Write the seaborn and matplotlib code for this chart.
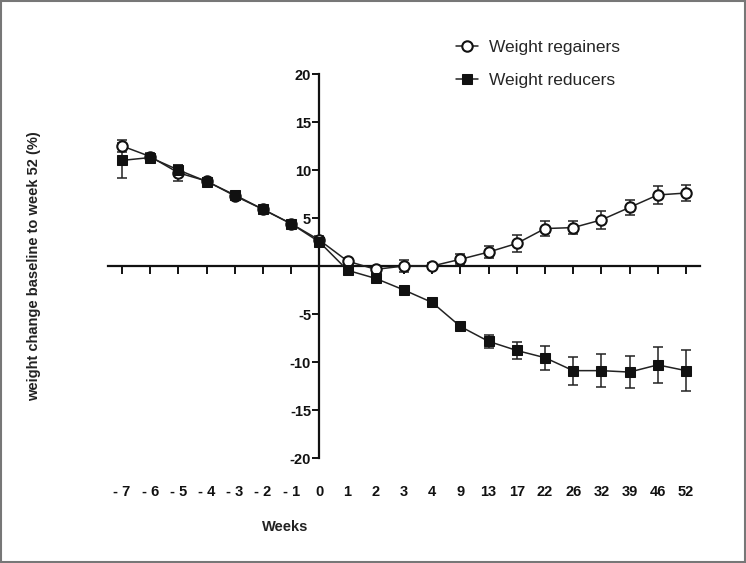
import matplotlib
matplotlib.use("Agg")
import matplotlib.pyplot as plt
import seaborn as sns
import pandas as pd
import numpy as np

# values
weeks = ['- 7', '- 6', '- 5', '- 4', '- 3', '- 2', '- 1', '0', '1', '2', '3', '4',
         '9', '13', '17', '22', '26', '32', '39', '46', '52']
regainers = [12.5, 11.4, 9.7, 8.85, 7.3, 5.9, 4.4, 2.7, 0.5, -0.35, 0.0, 0.0,
             0.7, 1.45, 2.35, 3.9, 4.0, 4.8, 6.1, 7.4, 7.6]
regainers_err = [0.6, 0.4, 0.8, 0.3, 0.3, 0.3, 0.3, 0.4, 0.3, 0.4, 0.6, 0.3,
                 0.5, 0.6, 0.9, 0.8, 0.7, 0.9, 0.8, 0.9, 0.8]
reducers = [11.0, 11.3, 10.0, 8.8, 7.4, 5.9, 4.4, 2.5, -0.45, -1.3, -2.5, -3.8,
            -6.3, -7.85, -8.8, -9.55, -10.9, -10.9, -11.05, -10.3, -10.9]
reducers_err = [1.8, 0.4, 0.5, 0.3, 0.3, 0.3, 0.3, 0.4, 0.3, 0.3, 0.3, 0.3,
                0.4, 0.7, 0.9, 1.25, 1.45, 1.7, 1.7, 1.85, 2.1]
yticks = [-20, -15, -10, -5, 5, 10, 15, 20]

sns.set_style('white')
plt.rcParams['font.family'] = ['Liberation Sans', 'DejaVu Sans']

pos = np.arange(len(weeks))
df = pd.DataFrame({'pos': pos, 'reg': regainers, 'red': reducers})

fig = plt.figure(figsize=(7.46, 5.63), dpi=100)
ax = fig.add_axes([108 / 746, 105 / 563, 592 / 746, 384 / 563])

# error bars first so markers sit on top
ax.errorbar(pos, regainers, yerr=regainers_err, fmt='none', ecolor='#222222',
            elinewidth=1.1, capsize=3.5, capthick=1.1, clip_on=False, zorder=2)
ax.errorbar(pos, reducers, yerr=reducers_err, fmt='none', ecolor='#222222',
            elinewidth=1.1, capsize=3.5, capthick=1.1, clip_on=False, zorder=2)

sns.lineplot(data=df, x='pos', y='reg', ax=ax, color='#222222', lw=1.1,
             marker='o', markersize=7.5, markerfacecolor='white',
             markeredgecolor='#111111', markeredgewidth=1.5,
             label='Weight regainers', clip_on=False, zorder=3)
sns.lineplot(data=df, x='pos', y='red', ax=ax, color='#222222', lw=1.1,
             marker='s', markersize=7.5, markerfacecolor='#111111',
             markeredgecolor='#111111', label='Weight reducers',
             clip_on=False, zorder=4)

ax.set_xlim(-0.5, 20.5)
ax.set_ylim(-20, 20)

for s in ['top', 'right']:
    ax.spines[s].set_visible(False)
ax.spines['left'].set_position(('data', 7))
ax.spines['bottom'].set_position(('data', 0))
ax.spines['left'].set_color('#111111')
ax.spines['bottom'].set_color('#111111')
ax.spines['left'].set_linewidth(1.6)
ax.spines['bottom'].set_linewidth(1.6)

ax.set_yticks(yticks)
ax.set_yticklabels([str(v) for v in yticks], fontweight='bold',
                   fontsize=10.5, color='#222222')
ax.set_xticks(pos)
ax.set_xticklabels(weeks, fontweight='bold', fontsize=10.5, color='#222222')
ax.tick_params(axis='y', direction='out', length=5, width=1.4, pad=1,
               left=True, colors='#111111')
ax.tick_params(axis='x', direction='out', length=6, width=1.4, pad=152,
               bottom=True, colors='#111111')

ax.set_xlabel('')
ax.set_ylabel('')
fig.text(285 / 746, 1 - 527 / 563, 'Weeks', ha='center', va='center',
         fontsize=10.5, fontweight='bold', color='#222222')
fig.text(34 / 746, 1 - 266 / 563, 'weight change baseline to week 52 (%)',
         rotation=90, ha='center', va='center', fontsize=10.5,
         fontweight='bold', color='#222222')

ax.legend(loc='upper left', bbox_to_anchor=(440 / 746, 1 - 24 / 563),
          bbox_transform=fig.transFigure, frameon=False, fontsize=12.5,
          handlelength=1.3, handletextpad=0.65, labelspacing=1.05)

fig.patches.append(plt.Rectangle((0.002, 0.002), 0.996, 0.996,
                                 transform=fig.transFigure, fill=False,
                                 edgecolor='#777777', linewidth=1.5))

fig.savefig('out.png', dpi=100)
